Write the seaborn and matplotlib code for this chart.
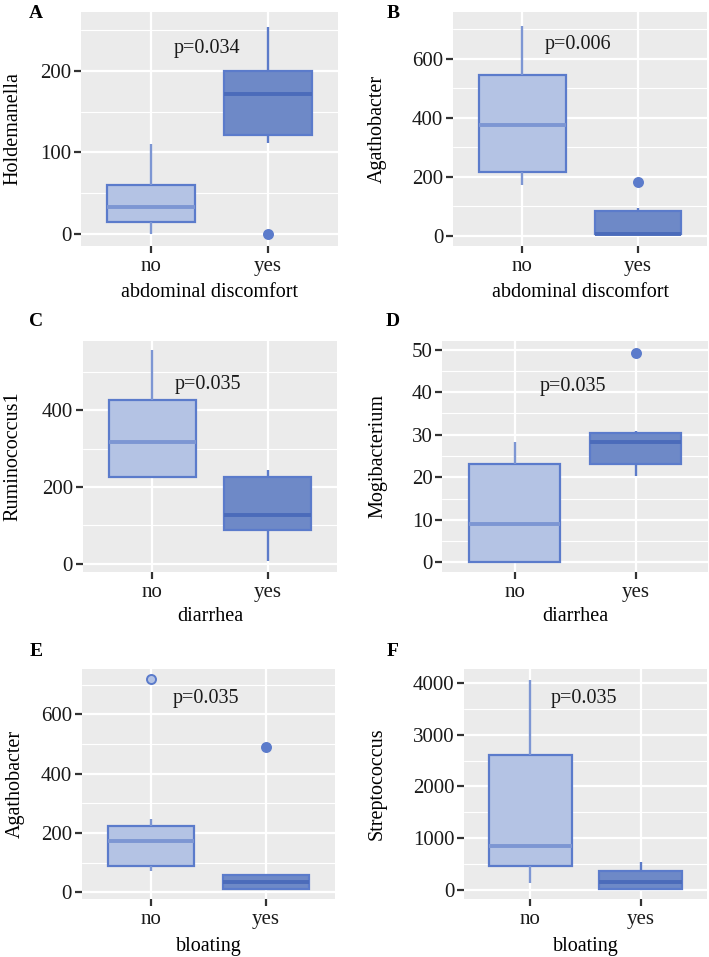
import matplotlib
matplotlib.use("Agg")
import matplotlib.pyplot as plt
import pandas as pd
import seaborn as sns

GROUPS = ["no", "yes"]

HOLDEMANELLA_NO = [0, 14, 32, 59.5, 110]
HOLDEMANELLA_YES = [0, 111, 121, 150, 171, 185, 200, 230, 254]
AGATHO_DISC_NO = [173, 218, 376, 546, 711]
AGATHO_DISC_YES = [4, 6, 6, 7, 8, 40, 86, 95, 184]
RUMINO_NO = [226, 226, 318, 427, 557]
RUMINO_YES = [6, 88.5, 127, 227, 245]
MOGI_NO = [0, 0, 8.9, 23.2, 28.3]
MOGI_YES = [20.2, 22, 23.1, 26, 28.4, 29, 30.3, 30.9, 49.1]
AGATHO_BLOAT_NO = [72, 80, 88.6, 130, 172.7, 200, 223, 249, 720]
AGATHO_BLOAT_YES = [11.2, 11.2, 11.2, 30, 36, 50, 59.4, 59.4, 491]
STREP_NO = [148, 462, 847, 2607, 4058]
STREP_YES = [19, 19, 160, 366, 546]

LETTERS = ["A", "B", "C", "D", "E", "F"]
XLABELS = ["abdominal discomfort", "abdominal discomfort", "diarrhea", "diarrhea",
           "bloating", "bloating"]
YLABELS = ["Holdemanella", "Agathobacter", "Ruminococcus1", "Mogibacterium",
           "Agathobacter", "Streptococcus"]
VALUES = [
    (HOLDEMANELLA_NO, HOLDEMANELLA_YES),
    (AGATHO_DISC_NO, AGATHO_DISC_YES),
    (RUMINO_NO, RUMINO_YES),
    (MOGI_NO, MOGI_YES),
    (AGATHO_BLOAT_NO, AGATHO_BLOAT_YES),
    (STREP_NO, STREP_YES),
]
PVALUES = ["p=0.034", "p=0.006", "p=0.035", "p=0.035", "p=0.035", "p=0.035"]
PTEXT_Y = [227, 648, 468, 41.3, 653, 3692]
MAJOR_STEP = [100, 200, 200, 10, 200, 1000]
YLIMS = [(-15, 272), (-33, 758), (-21, 581), (-2.2, 52.1), (-23, 754), (-175, 4270)]
WHIS = [1.5, 1.0, 1.5, 1.5, 1.5, 1.5]

# layout in reference pixels: left, top, right, bottom of each panel
W, H = 709, 957
BOXES = [
    (81, 12.3, 338, 245.7), (453, 12.3, 707.3, 245.7),
    (82.7, 340.7, 337.3, 571.7), (442.3, 340.7, 708, 571.7),
    (81.7, 668.7, 335, 899.3), (464, 668.7, 707.3, 899.3),
]
YLABEL_RIGHT = [22, 387, 22, 387, 25, 387]
XLABEL_TOP = [283, 283, 607, 607, 937, 937]
LETTER_POS = [(36, 14), (393, 14), (36, 321), (393, 321), (36, 651), (393, 651)]

FILLS = {"no": "#B4C3E4", "yes": "#6E89C7"}
EDGE = "#5B7BCB"
MEDIANS = {"no": "#7D96D3", "yes": "#4B6BBA"}
WHISKERS = {"no": "#7D96D3", "yes": "#5C7BC9"}
FLIER_FACE = {"no": "#B4C3E4", "yes": "#5B7BCB"}

sns.set_theme(style="darkgrid", rc={
    "axes.facecolor": "#EBEBEB",
    "grid.color": "white",
    "axes.edgecolor": "none",
})
plt.rcParams["font.family"] = ["Liberation Serif", "DejaVu Serif"]

fig = plt.figure(figsize=(W / 100, H / 100), dpi=100)

for i in range(6):
    l, t, r, b = BOXES[i]
    ax = fig.add_axes([l / W, 1 - b / H, (r - l) / W, (b - t) / H])
    no_vals, yes_vals = VALUES[i]
    df = pd.DataFrame({
        "group": ["no"] * len(no_vals) + ["yes"] * len(yes_vals),
        "value": no_vals + yes_vals,
    })
    sns.boxplot(
        data=df, x="group", y="value", hue="group", order=GROUPS,
        hue_order=GROUPS, palette=FILLS, saturation=1, legend=False,
        width=0.75, whis=WHIS[i], linewidth=1.6, linecolor=EDGE,
        showcaps=False,
        flierprops=dict(marker="o", markersize=6.5, markeredgewidth=1.4,
                        markeredgecolor=EDGE),
        ax=ax,
    )
    for cont, g in zip(ax.containers, GROUPS):
        for m in cont.medians:
            m.set_color(MEDIANS[g])
            m.set_linewidth(2.8)
        for w in cont.whiskers:
            w.set_color(WHISKERS[g])
            w.set_linewidth(1.7)
        for f in cont.fliers:
            f.set_markerfacecolor(FLIER_FACE[g])

    step = MAJOR_STEP[i]
    ax.set_ylim(*YLIMS[i])
    ax.set_xlim(-0.6, 1.6)
    ax.yaxis.set_major_locator(matplotlib.ticker.MultipleLocator(step))
    ax.yaxis.set_minor_locator(matplotlib.ticker.MultipleLocator(step / 2))
    ax.grid(which="major", color="white", linewidth=1.6)
    ax.grid(which="minor", axis="y", color="white", linewidth=0.8)
    ax.set_axisbelow(True)
    for s in ax.spines.values():
        s.set_visible(False)

    ax.tick_params(axis="both", which="major", length=5, width=1.6,
                   color="#333333", labelsize=15, labelcolor="#1a1a1a",
                   left=True, bottom=True)
    ax.tick_params(axis="y", which="major", pad=2)
    ax.tick_params(axis="x", which="major", pad=3)
    ax.tick_params(which="minor", length=0)

    ax.set_xlabel(XLABELS[i], fontsize=14.5, color="black")
    ax.set_ylabel(YLABELS[i], fontsize=14.5, color="black")
    ax.yaxis.set_label_coords((YLABEL_RIGHT[i] - l) / (r - l), 0.5)
    ax.xaxis.set_label_coords(0.5, (b - XLABEL_TOP[i]) / (b - t))

    ax.text(0.48, PTEXT_Y[i], PVALUES[i], ha="center", va="center",
            fontsize=14.5, color="#1a1a1a")

    lx, ly = LETTER_POS[i]
    fig.text(lx / W, 1 - ly / H, LETTERS[i], ha="center", va="center",
             fontsize=14, fontweight="bold", color="black")

fig.savefig("out.png", dpi=100)
